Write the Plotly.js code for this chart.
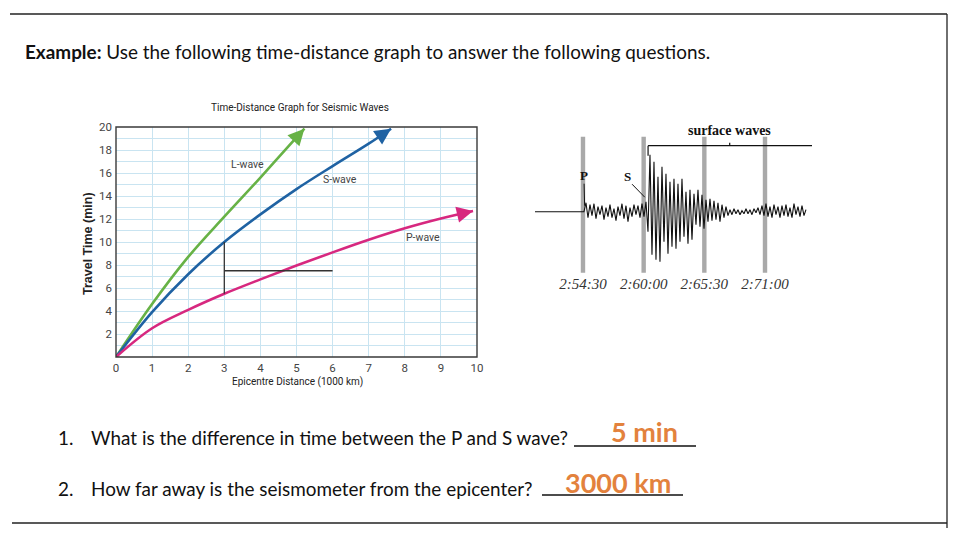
<!DOCTYPE html>
<html><head><meta charset="utf-8">
<script src="https://cdn.plot.ly/plotly-3.0.1.min.js"></script>
<style>html,body{margin:0;padding:0;background:#fff}#chart{width:960px;height:540px}</style>
</head><body><div id="chart"></div>
<script>
// ---- Time-distance graph data ----
const lDist = [0, 1, 2, 3, 4, 5, 5.22];
const lTime = [0, 4.6, 8.7, 12.2, 15.6, 19.1, 19.85];
const sDist = [0, 1, 2, 3, 4, 5, 6, 7, 7.62];
const sTime = [0, 3.9, 7.2, 10.0, 12.4, 14.6, 16.6, 18.55, 19.85];
const pDist = [0, 1, 2, 3, 4, 5, 6, 7, 8, 9, 9.89];
const pTime = [0, 2.5, 4.1, 5.5, 6.75, 7.95, 9.1, 10.2, 11.2, 12.05, 12.7];
const xTicks = [0,1,2,3,4,5,6,7,8,9,10];
const yTicks = [2,4,6,8,10,12,14,16,18,20];
const waveNames = ["L-wave", "S-wave", "P-wave"];
const waveColors = ["#67b246", "#1f62a3", "#d7287f"];
const labelPos = [[3.65, 16.75], [6.2, 15.4], [8.5, 10.35]];
// reading lines: S arrival at 3000 km (10 min), P arrival (5.5 min)
const readDist = [3, 3];
const readTime = [5.5, 10];
const diffDist = [3, 6];
const diffTime = [7.5, 7.5];

// ---- Seismogram data ----
const bandTimes = [54.5, 60, 65.5, 71];
const bandLabels = ["2:54:30", "2:60:00", "2:65:30", "2:71:00"];
const seisStart = 50.15;
const seisOnset = 54.59;
const seisStep = 0.1813;
const seisAmp = [
  0, 9, -6, 7, -4, 8, -7, 5, -3, 6, -8, 4, -5, 7, -6, 3, -9, 5, -4, 8, -7, 6, -10, 4, -5, 7, -3, 6, -6, 8, -5, 10,
  -20, 57, -43, 50, -48, 35, -50, 45, -30,
  38, -42, 30, -35, 33, -37, 28, -30, 33, -25,
  20, -32, 22, -28, 18, -13,
  22, -15, 17, -17,
  12, -10, 13, -9,
  11, -8, 9, -10,
  7, -6, 5, -4,
  2, -3, 3, -2, 2, -3, 1, -2, 3, -2, 2, -3, 3, -1, 4, -3,
  6, -4, 8, -5, 5, -6, 7, -3, 5, -6, 6, -4, 7, -5, 4, -6, 8, -3, 5, -5, 6, -4, 2
];

// ---- Worksheet text ----
const introBold = 'Example:';
const introText = 'Use the following time-distance graph to answer the following questions.';
const questions = ['What is the difference in time between the P and S wave?', 'How far away is the seismometer from the epicenter?'];
const answers = ['5 min', '3000 km'];

const seisT = [seisStart, seisOnset - seisStep];
const seisY = [0, 0];
seisAmp.forEach((a, i) => { seisT.push(seisOnset + i * seisStep); seisY.push(a); });

const chartFont = 'Roboto, "Liberation Sans", sans-serif';
const body = 'Lato, "Open Sans", sans-serif';
const serif = '"Liberation Serif", "DejaVu Serif", serif';

function waveTrace(x, y, color, name) {
  return {
    x: x, y: y, type: 'scatter', mode: 'lines', name: name,
    line: {color: color, width: 2.6, shape: 'spline', smoothing: 1},
    hoverinfo: 'skip', xaxis: 'x', yaxis: 'y'
  };
}

const traces = [
  waveTrace(lDist, lTime, waveColors[0], waveNames[0]),
  waveTrace(sDist, sTime, waveColors[1], waveNames[1]),
  waveTrace(pDist, pTime, waveColors[2], waveNames[2]),
  {x: readDist, y: readTime, type: 'scatter', mode: 'lines', line: {color: '#333', width: 1.3}, hoverinfo: 'skip'},
  {x: diffDist, y: diffTime, type: 'scatter', mode: 'lines', line: {color: '#333', width: 1.3}, hoverinfo: 'skip'},
  {x: seisT, y: seisY, type: 'scatter', mode: 'lines', line: {color: '#111', width: 1.1}, xaxis: 'x2', yaxis: 'y2', hoverinfo: 'skip'}
];

const px = (x) => x / 960, py = (y) => 1 - y / 540;
const shapes = [];
// page frame
shapes.push({type:'line', xref:'paper', yref:'paper', x0:px(10), x1:px(947), y0:py(14), y1:py(14), line:{color:'#222', width:1.3}});
shapes.push({type:'line', xref:'paper', yref:'paper', x0:px(947), x1:px(947), y0:py(14), y1:py(528), line:{color:'#222', width:1.3}});
shapes.push({type:'line', xref:'paper', yref:'paper', x0:px(12), x1:px(947), y0:py(523), y1:py(523), line:{color:'#222', width:1.3}});
// answer blanks (underlines)
shapes.push({type:'line', xref:'paper', yref:'paper', x0:px(574), x1:px(696), y0:py(446), y1:py(446), line:{color:'#111', width:1.4}});
shapes.push({type:'line', xref:'paper', yref:'paper', x0:px(542), x1:px(683), y0:py(495), y1:py(495), line:{color:'#111', width:1.4}});
// chart frame
shapes.push({type:'rect', xref:'x domain', yref:'y domain', x0:0, x1:1, y0:0, y1:1, line:{color:'#3a3a3a', width:1.4}});
// seismogram gray bands
bandTimes.forEach(t => {
  shapes.push({type:'rect', xref:'x2', yref:'y2', x0:t-0.2, x1:t+0.2, y0:-61, y1:75, fillcolor:'#a9a9a9', line:{width:0}, layer:'below'});
});
// surface waves bracket
shapes.push({type:'line', xref:'x2', yref:'y2', x0:60.4, x1:75.3, y0:66, y1:66, line:{color:'#111', width:1.2}});
shapes.push({type:'line', xref:'x2', yref:'y2', x0:60.4, x1:60.4, y0:66, y1:56, line:{color:'#111', width:1.2}});
shapes.push({type:'line', xref:'x2', yref:'y2', x0:67.8, x1:67.8, y0:66, y1:69, line:{color:'#111', width:1.2}});
// P and S pointers
shapes.push({type:'line', xref:'x2', yref:'y2', x0:54.6, x1:54.65, y0:28, y1:6, line:{color:'#111', width:1}});
shapes.push({type:'line', xref:'x2', yref:'y2', x0:58.95, x1:60.1, y0:27.5, y1:14.5, line:{color:'#111', width:1}});

const ann = [];
function txt(x, y, text, font, opts) {
  ann.push(Object.assign({xref:'paper', yref:'paper', x:px(x), y:py(y), text:text, showarrow:false, font:font, xanchor:'left', yanchor:'middle'}, opts||{}));
}
const qFont = {family: body, size: 18.9, color:'#111'};
const aFont = {family: body, size: 27, color:'#e3823d', weight: 700};
txt(23, 51, '<b>' + introBold + '</b> ' + introText, qFont);
txt(56, 437, '1.', qFont);
txt(89, 437, questions[0], qFont);
txt(644, 431, answers[0], aFont, {xanchor:'center'});
txt(56, 488, '2.', qFont);
txt(89, 488, questions[1], qFont);
txt(618, 482, answers[1], aFont, {xanchor:'center'});
// chart titles
txt(300, 108, 'Time-Distance Graph for Seismic Waves', {family: chartFont, size: 10, color:'#222'}, {xanchor:'center'});
txt(297, 382, 'Epicentre Distance (1000 km)', {family: chartFont, size: 10, color:'#222'}, {xanchor:'center'});
ann.push({xref:'paper', yref:'paper', x:px(88), y:py(244), text:'<b>Travel Time (min)</b>', textangle:-90, showarrow:false,
  font:{family:'"Liberation Sans", Arial, sans-serif', size:12.5, color:'#222'}, xanchor:'center', yanchor:'middle'});
// wave labels
waveNames.forEach((n, i) => {
  ann.push({xref:'x', yref:'y', x:labelPos[i][0], y:labelPos[i][1], text:n, showarrow:false, font:{family:chartFont, size:10.5, color:'#444'}});
});
// arrowheads at the end of each wave curve, pointing along the last data segment
const xPxPerUnit = (477 - 116) / 10, yPxPerUnit = (357 - 127) / 20;
[[lDist, lTime], [sDist, sTime], [pDist, pTime]].forEach(([xs, ys], i) => {
  const n = xs.length;
  const dx = (xs[n-1] - xs[n-2]) * xPxPerUnit, dy = (ys[n-1] - ys[n-2]) * yPxPerUnit;
  const len = Math.hypot(dx, dy), tail = 9;
  ann.push({xref:'x', yref:'y', x: xs[n-1], y: ys[n-1], ax: -tail * dx / len, ay: tail * dy / len, text:'', showarrow:true,
    arrowhead: 2, arrowsize: 1.25, arrowwidth: 2.6, arrowcolor: waveColors[i], standoff: 0});
});
// seismogram labels
ann.push({xref:'x2', yref:'y2', x:67.8, y:81, text:'<b>surface waves</b>', showarrow:false, font:{family:serif, size:14, color:'#111'}});
ann.push({xref:'x2', yref:'y2', x:54.6, y:36.5, text:'<b>P</b>', showarrow:false, font:{family:serif, size:13, color:'#111'}});
ann.push({xref:'x2', yref:'y2', x:58.5, y:35, text:'<b>S</b>', showarrow:false, font:{family:serif, size:13, color:'#111'}});

const layout = {
  width: 960, height: 540,
  margin: {l:0, r:0, t:0, b:0},
  paper_bgcolor: '#fff', plot_bgcolor: '#fff',
  showlegend: false,
  xaxis: {
    domain: [px(116), px(477)], range: [0, 10], tickvals: xTicks, ticks: '', ticklabelstandoff: 2,
    showgrid: true, gridcolor: '#c9e4f1', gridwidth: 1, zeroline: false, showline: false,
    tickfont: {family: chartFont, size: 11.5, color: '#444'}, fixedrange: true
  },
  yaxis: {
    domain: [py(357), py(127)], range: [0, 20], tickvals: yTicks, ticks: '', ticklabelstandoff: 3,
    showgrid: true, gridcolor: '#c9e4f1', gridwidth: 1, zeroline: false, showline: false,
    minor: {dtick: 1, showgrid: true, gridcolor: '#c9e4f1', gridwidth: 1},
    tickfont: {family: chartFont, size: 11.5, color: '#444'}, fixedrange: true
  },
  xaxis2: {
    domain: [px(535), px(812)], range: [50.15, 75.26], anchor: 'y2',
    tickvals: bandTimes, ticktext: bandLabels, ticks: '', showgrid: false, zeroline: false, showline: false,
    tickfont: {family: serif, size: 15, color: '#333', style: 'italic'}, fixedrange: true
  },
  yaxis2: {
    domain: [py(273), py(115)], range: [-61.3, 96.7], anchor: 'x2', visible: false, fixedrange: true
  },
  shapes: shapes,
  annotations: ann
};

Plotly.newPlot('chart', traces, layout, {displayModeBar: false, staticPlot: true});
</script></body></html>
